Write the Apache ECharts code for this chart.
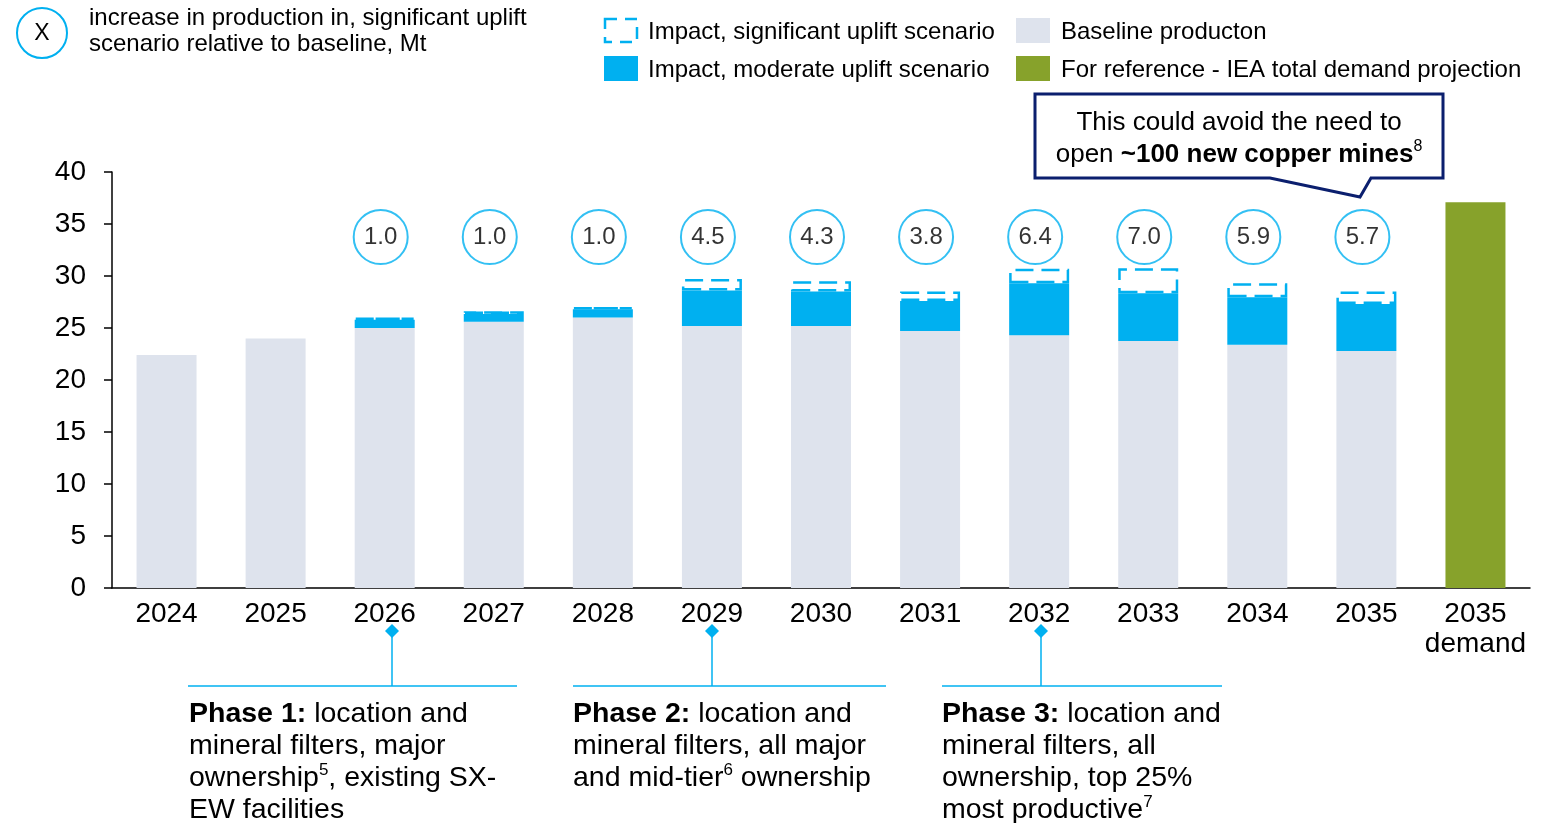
<!DOCTYPE html>
<html>
<head>
<meta charset="utf-8">
<script src="https://cdn.jsdelivr.net/npm/echarts@6/dist/echarts.min.js"></script>
<style>
  html, body { margin: 0; padding: 0; background: #fff; }
  #chart { width: 1552px; height: 823px; }
</style>
</head>
<body>
<div id="chart"></div>
<script>
// Copper production, Mt
const categories = ['2024', '2025', '2026', '2027', '2028', '2029', '2030', '2031', '2032', '2033', '2034', '2035', '2035\ndemand'];
const baseline = [22.4, 24.0, 25.0, 25.6, 26.0, 25.2, 25.2, 24.7, 24.3, 23.75, 23.4, 22.8, null];
const moderateUplift = [null, null, 0.8, 0.75, 0.8, 3.4, 3.3, 2.9, 5.0, 4.6, 4.55, 4.5, null];
const significantUplift = [null, null, 1.0, 1.0, 1.0, 4.5, 4.3, 3.8, 6.4, 7.0, 5.9, 5.7, null];
const demandProjection = [null, null, null, null, null, null, null, null, null, null, null, null, 37.1];
const yTicks = { min: 0, max: 40, interval: 5 };
const bubbleLevel = 33.75;

const FONT = '"Liberation Sans", Arial, sans-serif';
const BLUE = '#00b0f0';
const GREY = '#dee3ed';
const OLIVE = '#87a22b';
const NAVY = '#0b1f6e';

// extra height of the significant scenario above the moderate one
const significantExtra = significantUplift.map((v, i) => v == null ? null : +(v - moderateUplift[i]).toFixed(2));
const bubbles = significantUplift
  .map((v, i) => v == null ? null : [i, bubbleLevel])
  .filter(d => d);

const chart = echarts.init(document.getElementById('chart'), null, { renderer: 'canvas' });

const phaseText = (x, text) => ({
  type: 'text', left: x, top: 698,
  style: {
    text, fill: '#000', fontFamily: FONT, fontSize: 28.5, lineHeight: 32,
    rich: {
      b: { fontWeight: 'bold', fontSize: 28.5, fontFamily: FONT, fill: '#000', lineHeight: 32 },
      s: { fontSize: 17, fontFamily: FONT, fill: '#000', verticalAlign: 'top', lineHeight: 26 }
    }
  }
});
const phaseMarker = (dx, x1, x2) => ([
  { type: 'line', shape: { x1: dx, y1: 632, x2: dx, y2: 686 }, style: { stroke: BLUE, lineWidth: 1.5 } },
  { type: 'line', shape: { x1: x1, y1: 686, x2: x2, y2: 686 }, style: { stroke: BLUE, lineWidth: 1.5 } },
  { type: 'polygon', shape: { points: [[dx, 624], [dx + 7, 631], [dx, 638], [dx - 7, 631]] }, style: { fill: BLUE } }
]);

const option = {
  animation: false,
  textStyle: { fontFamily: FONT },
  grid: { left: 112, right: 22, top: 172, bottom: 235, containLabel: false },
  xAxis: {
    type: 'category',
    data: categories,
    axisLine: { lineStyle: { color: '#000', width: 1.5 } },
    axisTick: { show: false },
    axisLabel: { color: '#000', fontSize: 28, fontFamily: FONT, margin: 11, lineHeight: 30, interval: 0 }
  },
  yAxis: {
    type: 'value',
    min: yTicks.min, max: yTicks.max, interval: yTicks.interval,
    axisLine: { show: true, lineStyle: { color: '#000', width: 1.5 } },
    axisTick: { show: true, length: 8, lineStyle: { color: '#000', width: 1.5 } },
    splitLine: { show: false },
    axisLabel: { color: '#000', fontSize: 28, fontFamily: FONT, margin: 26 }
  },
  series: [
    {
      name: 'Baseline producton', type: 'bar', stack: 'total', barWidth: 60,
      data: baseline, itemStyle: { color: GREY }
    },
    {
      name: 'Impact, moderate uplift scenario', type: 'bar', stack: 'total', barWidth: 60,
      data: moderateUplift, itemStyle: { color: BLUE }
    },
    {
      name: 'Impact, significant uplift scenario', type: 'bar', stack: 'total', barWidth: 61,
      data: significantExtra,
      itemStyle: { color: '#ffffff', borderColor: BLUE, borderWidth: 2.5, borderType: [18, 8] },
      z: 3
    },
    {
      name: 'For reference - IEA total demand projection', type: 'bar', stack: 'total', barWidth: 60,
      data: demandProjection, itemStyle: { color: OLIVE }
    },
    {
      name: 'uplift', type: 'scatter', data: bubbles, symbol: 'circle', symbolSize: 54, z: 5,
      symbolOffset: [-4, 0],
      itemStyle: { color: '#fff', borderColor: BLUE, borderWidth: 2 },
      label: {
        show: true, position: 'inside', color: '#000', fontSize: 24, fontFamily: FONT,
        formatter: p => significantUplift[p.value[0]].toFixed(1)
      }
    }
  ],
  graphic: [
    // key for the bubbles
    { type: 'circle', shape: { cx: 42, cy: 33, r: 25 }, style: { fill: '#fff', stroke: BLUE, lineWidth: 2 } },
    { type: 'text', x: 42, y: 34, style: { text: 'X', fill: '#000', fontFamily: FONT, fontSize: 23, align: 'center', verticalAlign: 'middle' } },
    { type: 'text', left: 89, top: 5, style: { text: 'increase in production in, significant uplift\nscenario relative to baseline, Mt', fill: '#000', fontFamily: FONT, fontSize: 24, lineHeight: 26 } },

    // legend
    { type: 'rect', shape: { x: 605, y: 19, width: 32, height: 23 }, style: { fill: '#fff', stroke: BLUE, lineWidth: 2.5, lineDash: [12, 8] } },
    { type: 'text', left: 648, top: 20, style: { text: 'Impact, significant uplift scenario', fill: '#000', fontFamily: FONT, fontSize: 24 } },
    { type: 'rect', shape: { x: 604, y: 56, width: 34, height: 25 }, style: { fill: BLUE } },
    { type: 'text', left: 648, top: 58, style: { text: 'Impact, moderate uplift scenario', fill: '#000', fontFamily: FONT, fontSize: 24 } },
    { type: 'rect', shape: { x: 1016, y: 18, width: 34, height: 25 }, style: { fill: GREY } },
    { type: 'text', left: 1061, top: 20, style: { text: 'Baseline producton', fill: '#000', fontFamily: FONT, fontSize: 24 } },
    { type: 'rect', shape: { x: 1016, y: 56, width: 34, height: 25 }, style: { fill: OLIVE } },
    { type: 'text', left: 1061, top: 58, style: { text: 'For reference - IEA total demand projection', fill: '#000', fontFamily: FONT, fontSize: 24 } },

    // callout
    {
      type: 'polygon', z: 10,
      shape: { points: [[1035, 94], [1443, 94], [1443, 178], [1371, 178], [1360, 197], [1270, 178], [1035, 178]] },
      style: { fill: '#fff', stroke: NAVY, lineWidth: 3 }
    },
    {
      type: 'text', x: 1239, y: 107, z: 11,
      style: {
        text: 'This could avoid the need to\nopen {b|~100 new copper mines}{s|8}',
        fill: '#000', fontFamily: FONT, fontSize: 26, lineHeight: 32, align: 'center',
        rich: {
          b: { fontWeight: 'bold', fontSize: 26, fontFamily: FONT, fill: '#000', lineHeight: 32 },
          s: { fontSize: 16, fontFamily: FONT, fill: '#000', verticalAlign: 'top', lineHeight: 26 }
        }
      }
    },

    // phases
    ...phaseMarker(392, 188, 517),
    ...phaseMarker(712, 573, 886),
    ...phaseMarker(1041, 942, 1222),
    phaseText(189, '{b|Phase 1:} location and\nmineral filters, major\nownership{s|5}, existing SX-\nEW facilities'),
    phaseText(573, '{b|Phase 2:} location and\nmineral filters, all major\nand mid-tier{s|6} ownership'),
    phaseText(942, '{b|Phase 3:} location and\nmineral filters, all\nownership, top 25%\nmost productive{s|7}')
  ]
};

chart.setOption(option);
</script>
</body>
</html>
